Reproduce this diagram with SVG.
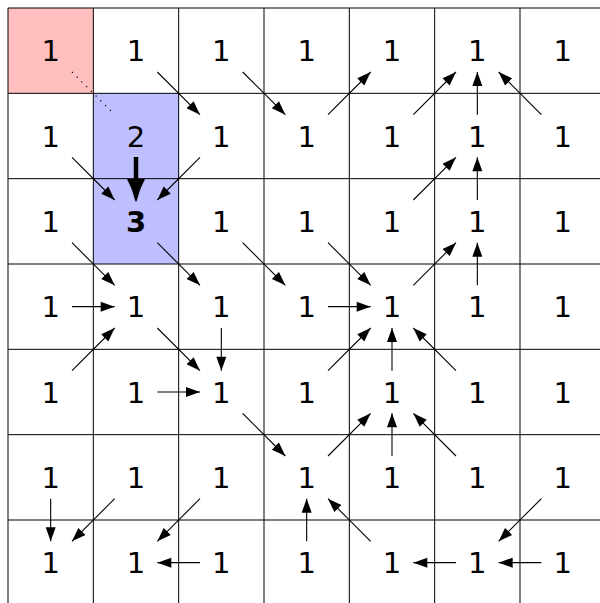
<svg xmlns="http://www.w3.org/2000/svg" width="600" height="603" viewBox="0 0 600 603">
<style>
.t{font-family:"DejaVu Sans",sans-serif;font-size:29px;fill:#000;text-anchor:middle}
.b{font-weight:bold}
.g{stroke:#000;stroke-width:1;fill:none}
.a{stroke:#000;stroke-width:1.1;fill:none;marker-end:url(#ah)}
</style>
<defs>
<marker id="ah" markerUnits="userSpaceOnUse" markerWidth="15" markerHeight="11" refX="14" refY="5" orient="auto" overflow="visible">
<path d="M0,0 L14,5 L0,10 Z" fill="#000"/>
</marker>
</defs>
<rect width="600" height="603" fill="#fff"/>
<rect x="8" y="8" width="85.33" height="85.33" fill="#ffbfbf"/>
<rect x="93.33" y="93.33" width="85.33" height="170.67" fill="#bfbfff"/>
<g id="grid" class="g">
<path d="M8,8H600M8,93.33H600M8,178.67H600M8,264H600M8,349.33H600M8,434.67H600M8,520H600"/>
<path d="M8,8V603M93.33,8V603M178.67,8V603M264,8V603M349.33,8V603M434.67,8V603M520,8V603"/>
</g>
<g id="nodes">
<g id="n0_0"><text class="t" x="50.67" y="61.2">1</text></g>
<g id="n1_0"><text class="t" x="136" y="61.2">1</text></g>
<g id="n2_0"><text class="t" x="221.33" y="61.2">1</text></g>
<g id="n3_0"><text class="t" x="306.67" y="61.2">1</text></g>
<g id="n4_0"><text class="t" x="392" y="61.2">1</text></g>
<g id="n5_0"><text class="t" x="477.33" y="61.2">1</text></g>
<g id="n6_0"><text class="t" x="562.67" y="61.2">1</text></g>
<g id="n0_1"><text class="t" x="50.67" y="146.5">1</text></g>
<g id="n1_1"><text class="t" x="136" y="146.5">2</text></g>
<g id="n2_1"><text class="t" x="221.33" y="146.5">1</text></g>
<g id="n3_1"><text class="t" x="306.67" y="146.5">1</text></g>
<g id="n4_1"><text class="t" x="392" y="146.5">1</text></g>
<g id="n5_1"><text class="t" x="477.33" y="146.5">1</text></g>
<g id="n6_1"><text class="t" x="562.67" y="146.5">1</text></g>
<g id="n0_2"><text class="t" x="50.67" y="231.8">1</text></g>
<g id="n1_2"><text class="t b" x="136" y="231.8">3</text></g>
<g id="n2_2"><text class="t" x="221.33" y="231.8">1</text></g>
<g id="n3_2"><text class="t" x="306.67" y="231.8">1</text></g>
<g id="n4_2"><text class="t" x="392" y="231.8">1</text></g>
<g id="n5_2"><text class="t" x="477.33" y="231.8">1</text></g>
<g id="n6_2"><text class="t" x="562.67" y="231.8">1</text></g>
<g id="n0_3"><text class="t" x="50.67" y="317.2">1</text></g>
<g id="n1_3"><text class="t" x="136" y="317.2">1</text></g>
<g id="n2_3"><text class="t" x="221.33" y="317.2">1</text></g>
<g id="n3_3"><text class="t" x="306.67" y="317.2">1</text></g>
<g id="n4_3"><text class="t" x="392" y="317.2">1</text></g>
<g id="n5_3"><text class="t" x="477.33" y="317.2">1</text></g>
<g id="n6_3"><text class="t" x="562.67" y="317.2">1</text></g>
<g id="n0_4"><text class="t" x="50.67" y="402.5">1</text></g>
<g id="n1_4"><text class="t" x="136" y="402.5">1</text></g>
<g id="n2_4"><text class="t" x="221.33" y="402.5">1</text></g>
<g id="n3_4"><text class="t" x="306.67" y="402.5">1</text></g>
<g id="n4_4"><text class="t" x="392" y="402.5">1</text></g>
<g id="n5_4"><text class="t" x="477.33" y="402.5">1</text></g>
<g id="n6_4"><text class="t" x="562.67" y="402.5">1</text></g>
<g id="n0_5"><text class="t" x="50.67" y="487.8">1</text></g>
<g id="n1_5"><text class="t" x="136" y="487.8">1</text></g>
<g id="n2_5"><text class="t" x="221.33" y="487.8">1</text></g>
<g id="n3_5"><text class="t" x="306.67" y="487.8">1</text></g>
<g id="n4_5"><text class="t" x="392" y="487.8">1</text></g>
<g id="n5_5"><text class="t" x="477.33" y="487.8">1</text></g>
<g id="n6_5"><text class="t" x="562.67" y="487.8">1</text></g>
<g id="n0_6"><text class="t" x="50.67" y="573.2">1</text></g>
<g id="n1_6"><text class="t" x="136" y="573.2">1</text></g>
<g id="n2_6"><text class="t" x="221.33" y="573.2">1</text></g>
<g id="n3_6"><text class="t" x="306.67" y="573.2">1</text></g>
<g id="n4_6"><text class="t" x="392" y="573.2">1</text></g>
<g id="n5_6"><text class="t" x="477.33" y="573.2">1</text></g>
<g id="n6_6"><text class="t" x="562.67" y="573.2">1</text></g>
</g>
<g id="connectors">
<line x1="72" y1="72" x2="114.67" y2="114.67" stroke="#000" stroke-width="1.2" stroke-dasharray="1.2 5.5"/>
<path d="M136,157 V181" stroke="#000" stroke-width="4.5" fill="none"/>
<path d="M127,179 L145,179 Q139.5,189 137,200 Q136,203 135,200 Q132.5,189 127,179 Z" fill="#000"/>
<line class="a" x1="157.33" y1="72" x2="200" y2="114.67"/>
<line class="a" x1="242.67" y1="72" x2="285.33" y2="114.67"/>
<line class="a" x1="328" y1="114.67" x2="370.67" y2="72"/>
<line class="a" x1="413.33" y1="114.67" x2="456" y2="72"/>
<line class="a" x1="477.33" y1="114.67" x2="477.33" y2="72"/>
<line class="a" x1="541.33" y1="114.67" x2="498.67" y2="72"/>
<line class="a" x1="72" y1="157.33" x2="114.67" y2="200"/>
<line class="a" x1="200" y1="157.33" x2="157.33" y2="200"/>
<line class="a" x1="413.33" y1="200" x2="456" y2="157.33"/>
<line class="a" x1="477.33" y1="200" x2="477.33" y2="157.33"/>
<line class="a" x1="72" y1="242.67" x2="114.67" y2="285.33"/>
<line class="a" x1="157.33" y1="242.67" x2="200" y2="285.33"/>
<line class="a" x1="242.67" y1="242.67" x2="285.33" y2="285.33"/>
<line class="a" x1="328" y1="242.67" x2="370.67" y2="285.33"/>
<line class="a" x1="413.33" y1="285.33" x2="456" y2="242.67"/>
<line class="a" x1="477.33" y1="285.33" x2="477.33" y2="242.67"/>
<line class="a" x1="72" y1="306.67" x2="114.67" y2="306.67"/>
<line class="a" x1="328" y1="306.67" x2="370.67" y2="306.67"/>
<line class="a" x1="221.33" y1="328" x2="221.33" y2="370.67"/>
<line class="a" x1="72" y1="370.67" x2="114.67" y2="328"/>
<line class="a" x1="157.33" y1="328" x2="200" y2="370.67"/>
<line class="a" x1="157.33" y1="392" x2="200" y2="392"/>
<line class="a" x1="328" y1="370.67" x2="370.67" y2="328"/>
<line class="a" x1="392" y1="370.67" x2="392" y2="328"/>
<line class="a" x1="456" y1="370.67" x2="413.33" y2="328"/>
<line class="a" x1="242.67" y1="413.33" x2="285.33" y2="456"/>
<line class="a" x1="328" y1="456" x2="370.67" y2="413.33"/>
<line class="a" x1="392" y1="456" x2="392" y2="413.33"/>
<line class="a" x1="456" y1="456" x2="413.33" y2="413.33"/>
<line class="a" x1="50.67" y1="498.67" x2="50.67" y2="541.33"/>
<line class="a" x1="114.67" y1="498.67" x2="72" y2="541.33"/>
<line class="a" x1="200" y1="498.67" x2="157.33" y2="541.33"/>
<line class="a" x1="306.67" y1="541.33" x2="306.67" y2="498.67"/>
<line class="a" x1="370.67" y1="541.33" x2="328" y2="498.67"/>
<line class="a" x1="541.33" y1="498.67" x2="498.67" y2="541.33"/>
<line class="a" x1="200" y1="562.67" x2="157.33" y2="562.67"/>
<line class="a" x1="456" y1="562.67" x2="413.33" y2="562.67"/>
<line class="a" x1="541.33" y1="562.67" x2="498.67" y2="562.67"/>
</g>
</svg>
